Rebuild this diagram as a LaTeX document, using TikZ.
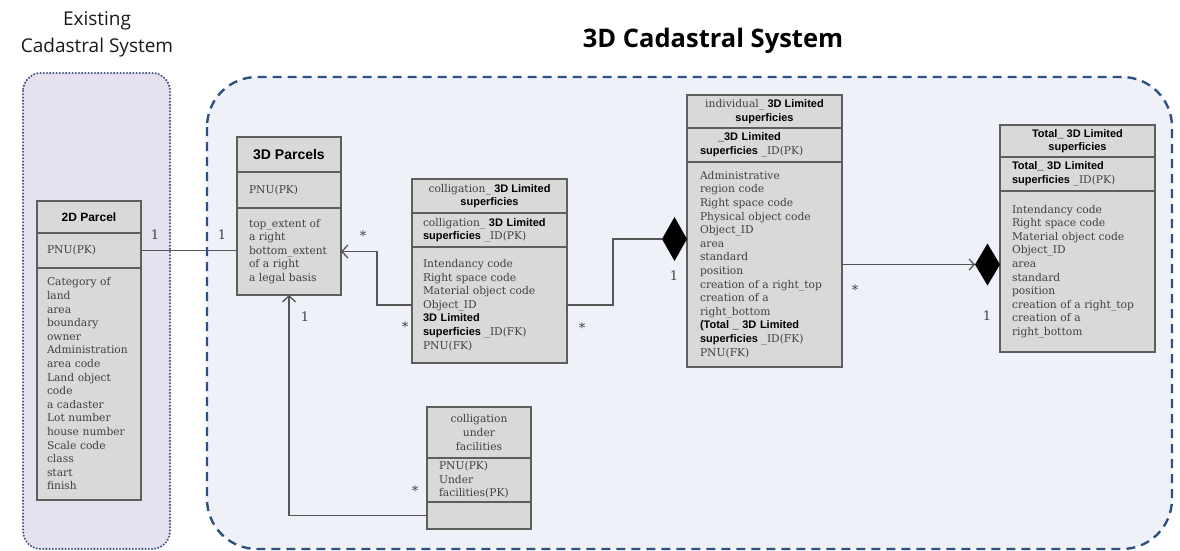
\documentclass[tikz,border=0pt]{standalone}
\usepackage{fontspec}
\setmainfont{DejaVu Serif}
\newfontfamily\hdfont{Liberation Sans}
\newfontfamily\ttlfont{Open Sans}
\usetikzlibrary{arrows.meta,shapes.geometric}
\definecolor{boxfill}{HTML}{D9D9D9}
\definecolor{boxline}{HTML}{5E5E5E}
\definecolor{txtgray}{HTML}{404040}
\definecolor{connline}{HTML}{555555}
\definecolor{lavfill}{HTML}{E5E1EE}
\definecolor{lavline}{HTML}{3E5580}
\definecolor{bluefill}{HTML}{EEF2F8}
\definecolor{blueline}{HTML}{2F5080}
\newcommand{\bodyf}{\fontsize{10.7}{13.6}\selectfont\hyphenpenalty=10000\exhyphenpenalty=10000}
\newcommand{\bd}[1]{{\hdfont\bfseries\fontsize{11}{13.6}\selectfont\color{black}#1}}
\begin{document}
\begin{tikzpicture}[x=1pt,y=-1pt,
  sec/.style={draw=boxline, fill=boxfill, line width=1.2pt, anchor=north west, inner sep=0pt, outer sep=0pt, font=\bodyf, text=txtgray},
  hdr/.style={font=\hdfont\bfseries\fontsize{12}{14}\selectfont, text=black},
  lbl/.style={font=\fontsize{13}{13}\selectfont, text=txtgray, inner sep=0pt},
  conn/.style={draw=connline, line width=1.3pt},
  openarr/.style={-{Straight Barb[length=6pt,width=13pt]}},
  comp/.style={diamond, fill=black, inner sep=0pt, outer sep=0pt, minimum width=25pt, minimum height=44pt}
]
\useasboundingbox (0,0) rectangle (1180,551);
\fill[white] (0,0) rectangle (1180,551);

% panels
\draw[fill=lavfill, draw=lavline, line width=2.3pt, dash pattern=on 0pt off 3.2pt, line cap=round, rounded corners=18pt] (23,73) rectangle (170,549);
\draw[fill=bluefill, draw=blueline, line width=2.4pt, dash pattern=on 9pt off 6pt, rounded corners=50pt] (207,77) rectangle (1172,549);

% titles
\node[font=\ttlfont\fontsize{19}{27}\selectfont, align=center, text=black!90] (ttlA) at (97,34) {Existing\\Cadastral System};
\node[font=\ttlfont\bfseries\fontsize{25.5}{30}\selectfont, text=black] (ttlB) at (713,41) {3D Cadastral System};

% 2D Parcel
\node[sec, hdr, minimum width=104pt, minimum height=32pt] (p2h) at (37,201) {2D Parcel};
\node[sec, minimum width=104pt, minimum height=35pt, text width=84pt, align=left] (p2k) at (37,233) {PNU(PK)};
\node[sec, minimum width=104pt, minimum height=232pt, text width=84pt, align=left] (p2b) at (37,268) {Category of\\land\\area\\boundary\\owner\\Administration\\area code\\Land object\\code\\a cadaster\\Lot number\\house number\\Scale code\\class\\start\\finish};

% 3D Parcels
\node[sec, hdr, font=\hdfont\bfseries\fontsize{14}{16}\selectfont, minimum width=104pt, minimum height=35pt] (ph) at (237,137) {3D Parcels};
\node[sec, minimum width=104pt, minimum height=36pt, text width=80pt, align=left] (pk) at (237,172) {PNU(PK)};
\node[sec, minimum width=104pt, minimum height=87pt, text width=80pt, align=left] (pb) at (237,208) {top\_extent of\\a right\\bottom\_extent\\of a right\\a legal basis};

% colligation 3D Limited superficies
\node[sec, minimum width=155pt, minimum height=34pt, align=center] (ch) at (412,179) {colligation\_ \bd{3D Limited}\\\bd{superficies}};
\node[sec, minimum width=155pt, minimum height=34pt, text width=133pt, align=left] (ck) at (412,213) {colligation\_ \bd{3D Limited}\\\bd{superficies} \_ID(PK)};
\node[sec, minimum width=155pt, minimum height=116pt, text width=133pt, align=left] (cb) at (412,247) {Intendancy code\\Right space code\\Material object code\\Object\_ID\\\bd{3D Limited}\\\bd{superficies} \_ID(FK)\\PNU(FK)};

% individual 3D Limited superficies
\node[sec, minimum width=155pt, minimum height=33pt, align=center] (ih) at (687,95) {individual\_ \bd{3D Limited}\\\bd{superficies}};
\node[sec, minimum width=155pt, minimum height=34pt, text width=129pt, align=left] (ik) at (687,128) {\hspace*{18pt}\bd{\_3D Limited}\\\bd{superficies} \_ID(PK)};
\node[sec, minimum width=155pt, minimum height=205pt, text width=129pt, align=left] (ib) at (687,162) {Administrative\\region code\\Right space code\\Physical object code\\Object\_ID\\area\\standard\\position\\creation of a right\_top\\creation of a\\right\_bottom\\\bd{(Total \_ 3D Limited}\\\bd{superficies} \_ID(FK)\\PNU(FK)};

% Total 3D Limited superficies
\node[sec, minimum width=155pt, minimum height=32pt, align=center] (th) at (1000,125) {\bd{Total\_ 3D Limited}\\\bd{superficies}};
\node[sec, minimum width=155pt, minimum height=34pt, text width=131pt, align=left] (tk) at (1000,157) {\bd{Total\_ 3D Limited}\\\bd{superficies} \_ID(PK)};
\node[sec, minimum width=155pt, minimum height=161pt, text width=131pt, align=left] (tb) at (1000,191) {Intendancy code\\Right space code\\Material object code\\Object\_ID\\area\\standard\\position\\creation of a right\_top\\creation of a\\right\_bottom};

% colligation under facilities
\node[sec, minimum width=104pt, minimum height=51pt, align=center] (uh) at (427,407) {colligation\\under\\facilities};
\node[sec, minimum width=104pt, minimum height=44pt, text width=80pt, align=left] (uk) at (427,458) {PNU(PK)\\Under\\facilities(PK)};
\node[sec, minimum width=104pt, minimum height=27pt] (ub) at (427,502) {};

% composition diamonds
\node[comp, anchor=east] (d1) at (687,239) {};
\node[comp, anchor=east, minimum height=42pt] (d2) at (1000,264.5) {};

% connectors
\draw[conn] (p2k.east) -- (p2k.east -| pb.west);
\draw[conn, openarr] (cb.west) -- ++(-35,0) |- (pb.east);
\draw[conn] (cb.east) -- ++(46,0) |- (d1.west);
\draw[conn, -{Straight Barb[length=5pt,width=11pt]}] (ib.east) -- (ib.east -| d2.west);
\draw[conn, openarr] (ub.west) -| (pb.south);

% multiplicities
\node[lbl] (m1) at (155,235) {1};
\node[lbl] (m2) at (222,235) {1};
\node[lbl] (m3) at (363,236) {*};
\node[lbl] (m4) at (405,327) {*};
\node[lbl] (m5) at (582,328) {*};
\node[lbl] (m6) at (674,276) {1};
\node[lbl] (m7) at (855,290) {*};
\node[lbl] (m8) at (987,316) {1};
\node[lbl] (m9) at (305,317) {1};
\node[lbl] (m10) at (415,491) {*};
\end{tikzpicture}
\end{document}
